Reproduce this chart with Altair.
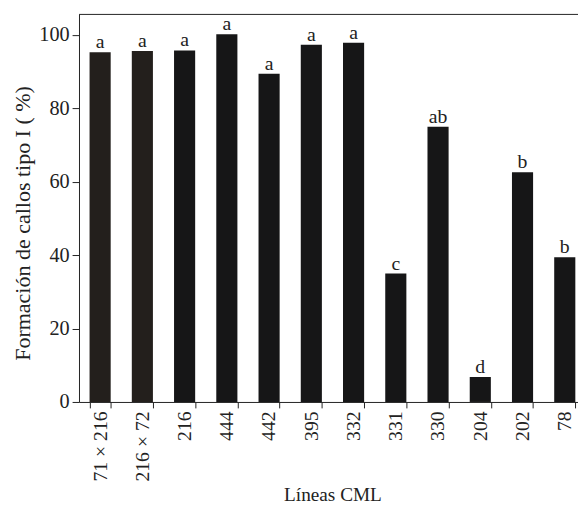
import altair as alt
import pandas as pd

lines = ["71 × 216", "216 × 72", "216", "444", "442", "395", "332", "331", "330", "204", "202", "78"]
values = [95.3, 95.6, 95.8, 100.2, 89.4, 97.3, 97.9, 35.0, 75.0, 6.8, 62.6, 39.4]
letters = ["a", "a", "a", "a", "a", "a", "a", "c", "ab", "d", "b", "b"]
colors = ["#231f1c", "#231f1c"] + ["#161617"] * 10
y_ticks = [0, 20, 40, 60, 80, 100]

df = pd.DataFrame({"linea": lines, "valor": values, "letra": letters, "color": colors})

W, H = 506, 393
FONT = "Liberation Serif"

x = alt.X(
    "linea:N",
    sort=lines,
    scale=alt.Scale(range=[0, 514], paddingInner=0.5, paddingOuter=0.25),
    axis=alt.Axis(
        title="Líneas CML",
        labelAngle=-90,
        labelAlign="right",
        labelBaseline="middle",
        tickBand="extent",
        tickSize=6,
        labelPadding=3,
        labelFontSize=20,
        labelFont=FONT,
        labelColor="#222",
        titleFont=FONT,
        titleFontSize=19.5,
        titleFontWeight="normal",
        titleColor="#222",
        titleY=100,
        titleBaseline="alphabetic",
        domainColor="#222",
        tickColor="#222",
        labelOverlap=False,
    ),
)
y = alt.Y(
    "valor:Q",
    scale=alt.Scale(domain=[0, 105.6], nice=False),
    axis=alt.Axis(
        values=y_ticks,
        title="Formación de callos tipo I ( %)",
        tickSize=7,
        labelPadding=3,
        labelFontSize=20.5,
        labelFont=FONT,
        labelColor="#222",
        titleFont=FONT,
        titleFontSize=22.3,
        titleFontWeight="normal",
        titleColor="#222",
        titleAngle=-90,
        titleAlign="center",
        titleBaseline="alphabetic",
        titleX=-50,
        titleY=211.5,
        domainColor="#222",
        tickColor="#222",
        grid=False,
    ),
)

base = alt.Chart(df)
bars = base.mark_bar().encode(x=x, y=y, color=alt.Color("color:N", scale=None))
text = base.mark_text(baseline="alphabetic", dy=-4, fontSize=20, font=FONT, color="#222").encode(
    x=x, y=y, text="letra:N"
)
top = alt.Chart(pd.DataFrame({"t": [0]})).mark_rule(color="#222", strokeWidth=1).encode(
    y=alt.value(0), x=alt.value(0), x2=alt.value(W)
)

chart = (
    alt.layer(bars, text, top)
    .properties(
        width=W,
        height=H,
        padding={"left": 72, "top": 3, "right": 0, "bottom": 103},
        autosize=alt.AutoSizeParams(type="none"),
    )
    .configure_view(stroke=None)
)

chart.save("out.html", embed_options={"renderer": "svg", "actions": False})
